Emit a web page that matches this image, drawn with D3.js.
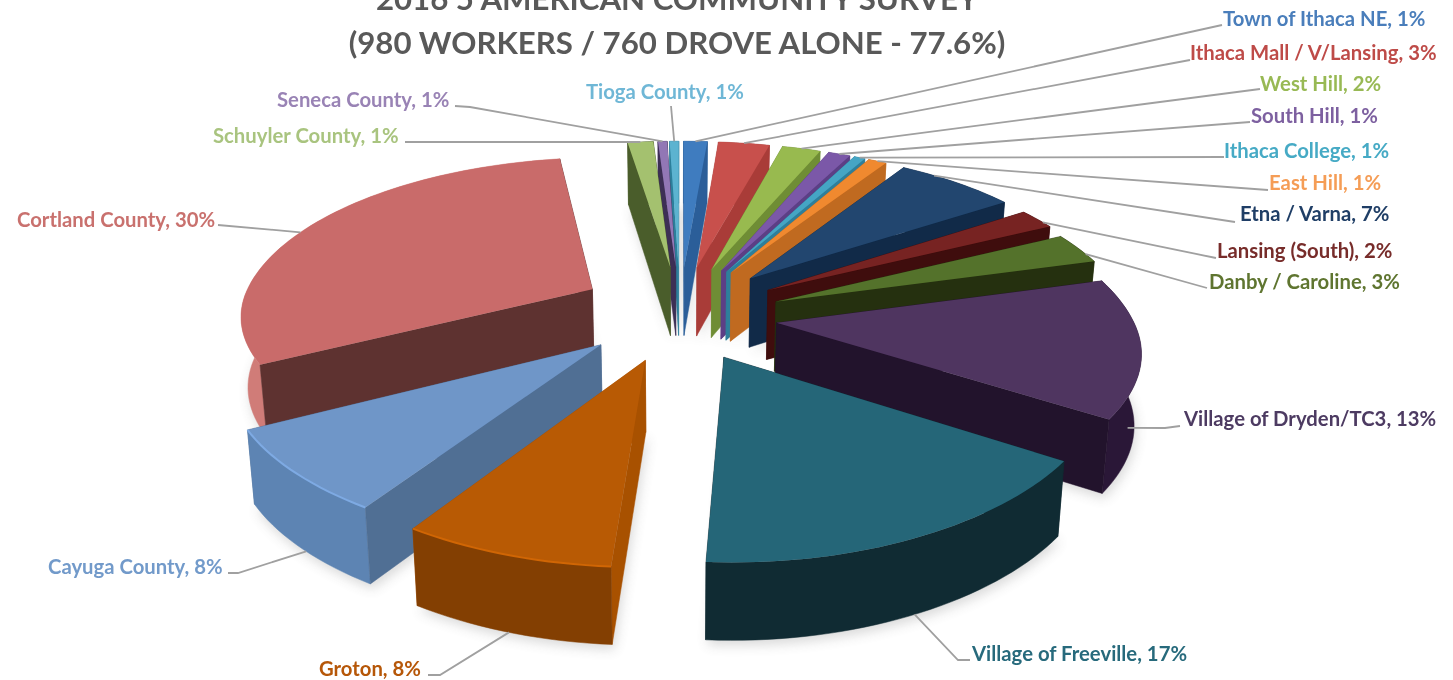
<!DOCTYPE html>
<html>
<head>
<meta charset="utf-8">
<script src="https://cdn.jsdelivr.net/npm/d3@7"></script>
<style>
html, body { margin: 0; padding: 0; background: #fff; }
svg { display: block; }
text { font-family: Lato, "Open Sans", sans-serif; font-weight: 700; }
</style>
</head>
<body>
<div id="chart"></div>
<script>
var categories = ["Town of Ithaca NE", "Ithaca Mall / V/Lansing", "West Hill", "South Hill", "Ithaca College", "East Hill",
    "Etna / Varna", "Lansing (South)", "Danby / Caroline", "Village of Dryden/TC3", "Village of Freeville", "Groton",
    "Cayuga County", "Cortland County", "Schuyler County", "Seneca County", "Tioga County"];
// printed percent
var printed = [1, 3, 2, 1, 1, 1, 7, 2, 3, 13, 17, 8, 8, 30, 1, 1, 1];
// share, the printed ones are rounded
var shares = [1.3, 2.8, 2.1, 1.2, 0.6, 1.0, 6.5, 2, 3, 13.5, 16.5, 8, 8, 30.1, 1.4, 0.5, 0.5];

var topColors = ["#3f7cbf", "#c8504c", "#98ba4f", "#7b58a8", "#45a5c4", "#f0892f", "#22466f", "#772322", "#54722b",
    "#4f3560", "#256678", "#b85a04", "#6f96c8", "#c96b6a", "#a4c16f", "#9277b5", "#5cb3d0"];
var cutColors = ["#2b5e99", "#a93c38", "#6f8d35", "#5c3f85", "#2e7f9b", "#c06a20", "#112a48", "#3f0d0d", "#25300f",
    "#22132c", "#102b33", "#a85100", "#506f94", "#5e3230", "#4a5d2b", "#3d2f55", "#2d7f9b"];
var rimColors = ["#2b5e99", "#a93c38", "#6f8d35", "#5c3f85", "#2e7f9b", "#c06a20", "#112a48", "#3f0d0d", "#25300f",
    "#2a1737", "#102b33", "#833f02", "#5d84b3", "#d07c78", "#4a5d2b", "#3d2f55", "#2d7f9b"];
var labelColors = ["#4a7ebb", "#be4b48", "#98b954", "#7d60a0", "#46aac5", "#f59d56", "#1f3e66", "#772c2a", "#5f7530",
    "#4d3b62", "#276a7c", "#b65708", "#729aca", "#c9716e", "#a9c47f", "#9983b5", "#6fb7d6"];

var titleLines = ["2016 5 AMERICAN COMMUNITY SURVEY", "(980 WORKERS / 760 DROVE ALONE - 77.6%)"];

// label placement: left edge, vertical middle, then leader start and elbow
var labelX = [1223, 1190, 1260, 1251, 1224, 1269, 1240, 1217, 1209, 1184, 972, 319, 48, 17, 213, 277, 586];
var labelY = [19, 53, 84, 116, 151, 183, 214, 251, 282, 419, 654, 669, 567, 220, 136, 100, 92];
var leaderFrom = [[1222, 25], [1190, 60], [1260, 89], [1250, 122], [1224, 157], [1268, 190], [1235, 222], [1216, 258], [1207, 288],
    [1180, 426], [970, 660], [428, 675], [228, 573], [218, 225], [405, 142], [455, 106], [671, 106]];
var leaderElbow = [null, null, null, null, null, null, null, null, null,
    [1165, 428], [958, 660], [440, 675], [238, 573], null, null, [470, 107], null];
// where along the rim the leader lands, and how far down the wall
var leaderAngle = [0.5, 0.5, 0.5, 0.5, 0.5, 0.5, 0.28, 0.72, 0.72, 0.8, 0.5, 0.5, 0.45, 0.47, 0.5, 0.5, 0.5];
var leaderDown = [0, 0, 0, 0, 0, 0, 0, 0, 0, 0.5, 1, 1, 1, 0, 0, 0, 0];

// slices that sit off the common explosion in the picture
var extraDrop = [0, 0, 0, 0, 0, 0, 0, 0.02, 0.055, 0.04, 0, 0, 0, 0, 0, 0, 0];
var extraLeft = [0, 0, 0, 0, 0, 0, 0, 0, 0, 0.02, 0.012, 0.01, 0.02, 0.015, 0, 0, 0];

var width = 1453, height = 680;
var explode = 0.267, persp = 0.17;
var cx = 680, cy = 308;

// depth of the pie gets smaller towards the back
var wallDepth = d3.scaleLinear().domain([-1.27, 1.27]).range([78, 62]);
var planeX = d3.scaleLinear().domain([-1, 1]).range([-352, 352]);
var planeY = d3.scaleLinear().domain([-1, 1]).range([160, -160]);

function project(p, down) {
    var s = 1 + persp * p[1];
    var x = planeX(p[0]) / s, y = planeY(p[1]) / s;
    // walls lean in a little towards the middle
    if (down) return [cx + x * 0.984, cy + y + wallDepth(p[1])];
    return [cx + x, cy + y];
}

var svg = d3.select("#chart").append("svg")
    .attr("width", width)
    .attr("height", height);

svg.append("rect").attr("width", width).attr("height", height).attr("fill", "#fff");

var defs = svg.append("defs");
defs.append("filter").attr("id", "soft").attr("x", "-20%").attr("y", "-20%").attr("width", "140%").attr("height", "140%")
    .append("feGaussianBlur").attr("stdDeviation", 6);

var pie = d3.pie().sort(null).value(function (d) { return d; });
var arcs = pie(shares).map(function (a, i) {
    a.mid = (a.startAngle + a.endAngle) / 2;
    var sx = Math.sin(a.mid), sy = Math.cos(a.mid);
    a.ox = explode * sx * (sx > 0 ? 1.1 : 1) - extraLeft[i];
    a.oy = explode * sy * (sy < 0 ? 1.22 : 1) - extraDrop[i];
    return a;
});

function rimPoint(a, t) {
    var sx = Math.sin(t), sy = Math.cos(t);
    if (sy < 0) {
        // front of the rim is drawn tighter than plain perspective
        sx = sx * (1 - 0.05 * sy * sy);
        sy = sy * 0.96;
    }
    return [a.ox + sx, a.oy + sy];
}

function rimPoints(a) {
    var n = Math.max(3, Math.ceil((a.endAngle - a.startAngle) / 0.03));
    return d3.range(n + 1).map(function (i) {
        return rimPoint(a, a.startAngle + (a.endAngle - a.startAngle) * i / n);
    });
}

var line = d3.line();

function quad(points) {
    var top = points.map(function (p) { return project(p, false); });
    var bottom = points.map(function (p) { return project(p, true); }).reverse();
    return top.concat(bottom);
}

var order = d3.range(arcs.length).sort(function (i, j) {
    return d3.descending(Math.cos(arcs[i].mid), Math.cos(arcs[j].mid));
});

var shadow = svg.append("g").attr("filter", "url(#soft)").attr("opacity", 0.22);
var slices = svg.append("g");

order.forEach(function (i) {
    var a = arcs[i];
    var tip = [a.ox, a.oy];
    var rim = rimPoints(a);

    var outline = [tip].concat(rim).map(function (p) { return project(p, true); });
    shadow.append("path").attr("d", line(outline) + "Z").attr("fill", "#555")
        .attr("transform", "translate(2,5)");

    var g = slices.append("g").attr("class", "slice");

    var walls = [
        {points: [tip, rim[0]], fill: cutColors[i]},
        {points: rim, fill: rimColors[i]},
        {points: [rim[rim.length - 1], tip], fill: cutColors[i]}
    ];
    // back facing ones first so the front ones stay on top
    walls.forEach(function (w) {
        w.area = d3.polygonArea(quad(w.points));
    });
    walls.sort(function (u, v) { return d3.ascending(u.area, v.area); });
    walls.forEach(function (w) {
        g.append("path").attr("d", line(quad(w.points)) + "Z")
            .attr("fill", w.fill).attr("stroke", w.fill).attr("stroke-width", 0.5);
    });

    g.append("path")
        .attr("d", line([tip].concat(rim).map(function (p) { return project(p, false); })) + "Z")
        .attr("fill", topColors[i]);

    // thin bevel along the rim, only shows on the two front left slices
    if (a.mid > Math.PI && a.mid < 4.2) {
        g.append("path")
            .attr("d", line(rim.map(function (p) { return project(p, false); })))
            .attr("fill", "none")
            .attr("stroke", d3.color(topColors[i]).brighter(0.35))
            .attr("stroke-width", 2);
    }
});

var leaders = svg.append("g");
categories.forEach(function (name, i) {
    var a = arcs[i];
    var t = a.startAngle + (a.endAngle - a.startAngle) * leaderAngle[i];
    var p = rimPoint(a, t);
    var end = d3.interpolate(project(p, false), project(p, true))(leaderDown[i]);
    var pts = [leaderFrom[i]];
    if (leaderElbow[i]) pts.push(leaderElbow[i]);
    pts.push(end);
    leaders.append("path")
        .attr("d", line(pts))
        .attr("fill", "none")
        .attr("stroke", "#a0a0a0")
        .attr("stroke-width", 1.8);
});

svg.append("g").selectAll("text")
    .data(categories)
    .enter().append("text")
    .attr("x", function (d, i) { return labelX[i]; })
    .attr("y", function (d, i) { return labelY[i]; })
    .attr("dy", "0.35em")
    .attr("font-size", 20.3)
    .attr("fill", function (d, i) { return labelColors[i]; })
    .text(function (d, i) { return d + ", " + printed[i] + "%"; });

svg.append("g").selectAll("text")
    .data(titleLines)
    .enter().append("text")
    .attr("x", 677)
    .attr("y", function (d, i) { return 10 + i * 44; })
    .attr("text-anchor", "middle")
    .attr("font-size", 31.2)
    .attr("fill", "#595959")
    .text(function (d) { return d; });
</script>
</body>
</html>
